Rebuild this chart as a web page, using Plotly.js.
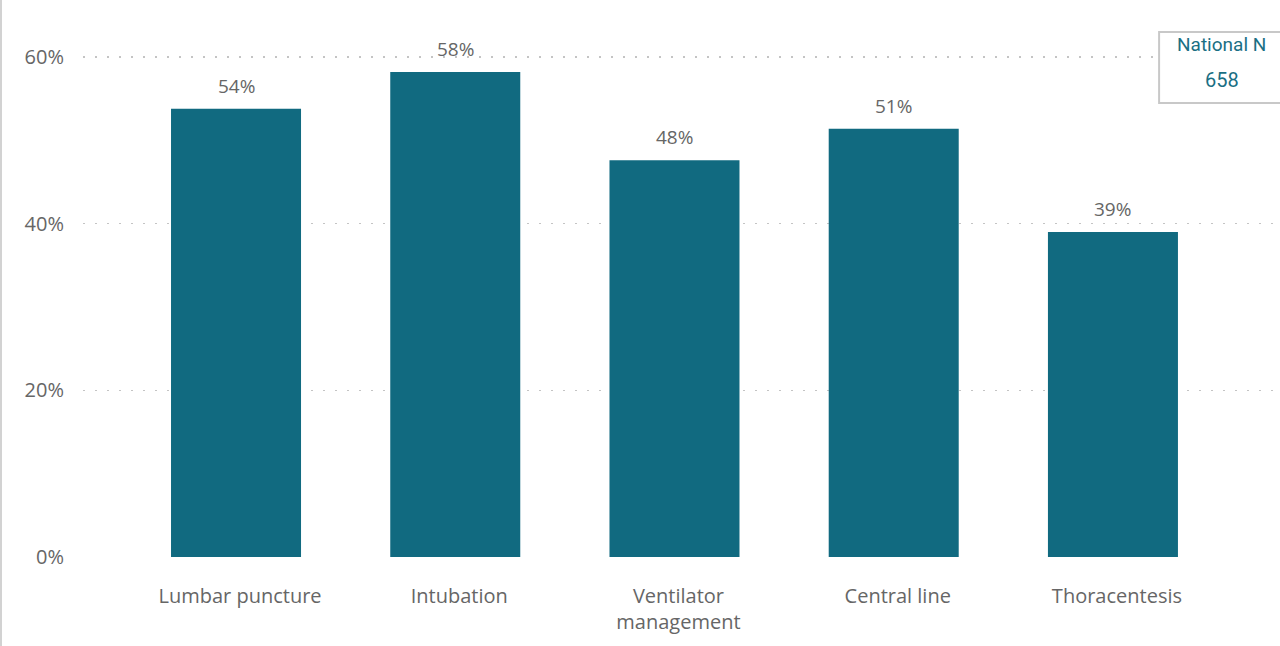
<!DOCTYPE html>
<html>
<head>
<meta charset="utf-8">
<script src="https://cdn.plot.ly/plotly-3.0.1.min.js"></script>
<style>
html,body{margin:0;padding:0;background:#fff;}
#chart{width:1280px;height:646px;}
#edge{position:absolute;left:0;top:0;width:2px;height:646px;background:#d2d2d2;z-index:10;}
</style>
</head>
<body>
<div id="edge"></div>
<div id="chart"></div>
<script>
const categories = ["Lumbar puncture", "Intubation", "Ventilator management", "Central line", "Thoracentesis"];
const tickLabels = ["Lumbar puncture", "Intubation", "Ventilator<br>management", "Central line", "Thoracentesis"];
const values = [53.8, 58.2, 47.6, 51.4, 39.0];
const valueLabels = ["54%", "58%", "48%", "51%", "39%"];
const yTicks = [0, 20, 40, 60];
const yTickLabels = ["0%", "20%", "40%", "60%"];
const legendTitle = "National N";
const legendValue = "658";

const barColor = "#116A80";
const textGray = "#666666";
const teal = "#1A6F84";
const fontFam = "'Open Sans', 'Noto Sans', sans-serif";

const trace = {
  type: "bar",
  x: categories,
  y: values,
  marker: {color: barColor},
  width: 0.593,
  hoverinfo: "none"
};

const annotations = categories.map((c, i) => ({
  x: c, y: values[i], xref: "x", yref: "y",
  text: valueLabels[i], showarrow: false,
  xanchor: "center", yanchor: "bottom", yshift: 8,
  font: {family: fontFam, size: 19, color: textGray}
}));

annotations.push({
  x: 0.9515, y: 0.931, xref: "paper", yref: "paper",
  xanchor: "center", yanchor: "middle",
  text: legendTitle, showarrow: false,
  font: {family: "Roboto, sans-serif", size: 19, color: teal}
});
annotations.push({
  x: 0.9515, y: 0.867, xref: "paper", yref: "paper",
  xanchor: "center", yanchor: "middle",
  text: legendValue, showarrow: false,
  font: {family: "Roboto, sans-serif", size: 20, color: teal}
});

const layout = {
  width: 1280, height: 646,
  margin: {l: 83, r: 0, t: 7, b: 89, pad: 0},
  paper_bgcolor: "#ffffff", plot_bgcolor: "#ffffff",
  showlegend: false,
  xaxis: {
    type: "category",
    range: [-0.698, 4.762],
    tickvals: categories,
    ticktext: tickLabels,
    showgrid: false, zeroline: false, showline: false,
    ticks: "", ticklabelstandoff: 25, ticklabelshift: 4,
    tickfont: {family: fontFam, size: 20, color: textGray}
  },
  yaxis: {
    range: [0, 66],
    tickvals: yTicks,
    ticktext: yTickLabels,
    showgrid: true, gridcolor: "#c4c4c4", gridwidth: 1.5, griddash: "2px,10px",
    zeroline: false, showline: false, ticks: "",
    ticklabelstandoff: 18,
    tickfont: {family: fontFam, size: 20, color: textGray}
  },
  shapes: [{
    type: "rect", xref: "paper", yref: "paper",
    x0: 0.899, x1: 1.02, y0: 0.8255, y1: 0.9545,
    line: {color: "#c8c8c8", width: 2},
    fillcolor: "#ffffff", layer: "above"
  }],
  annotations: annotations
};

Plotly.newPlot("chart", [trace], layout, {displayModeBar: false, staticPlot: true});
</script>
</body>
</html>
